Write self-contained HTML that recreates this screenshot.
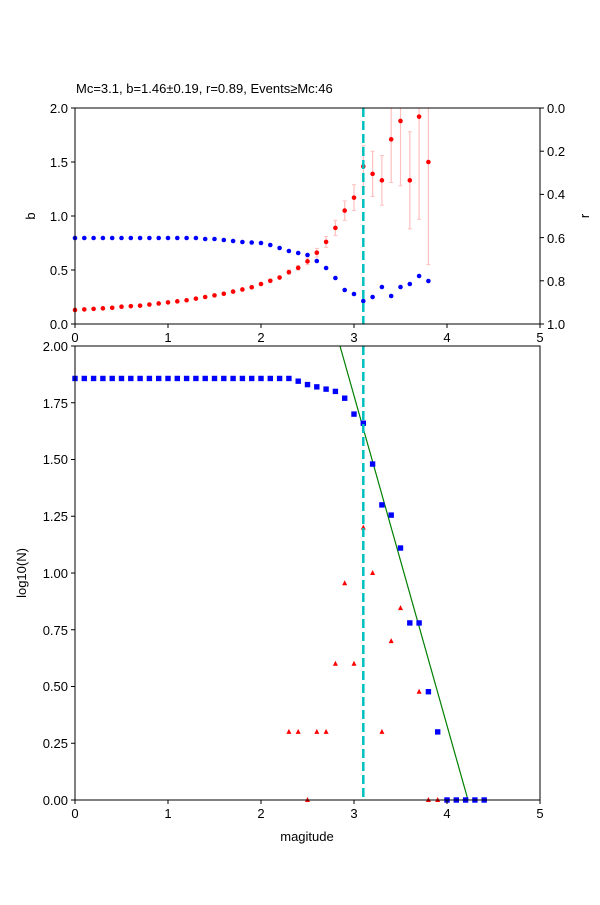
<!DOCTYPE html>
<html><head><meta charset="utf-8"><style>
body{margin:0;background:#fff}
svg text{font-family:"Liberation Sans","DejaVu Sans",sans-serif;font-size:13px;fill:#000}
</style></head><body>
<svg id="s" width="600" height="900" xmlns="http://www.w3.org/2000/svg">
<rect width="600" height="900" fill="#fff"/>
<g id="data"></g>
<rect x="75" y="108" width="465" height="216" fill="none" stroke="#000" stroke-width="1"/>
<rect x="75" y="346" width="465" height="454" fill="none" stroke="#000" stroke-width="1"/>
<text x="76" y="93">Mc=3.1, b=1.46±0.19, r=0.89, Events≥Mc:46</text>
<g stroke="#000">
<line x1="75" y1="324" x2="75" y2="328"/><line x1="168" y1="324" x2="168" y2="328"/><line x1="261" y1="324" x2="261" y2="328"/><line x1="354" y1="324" x2="354" y2="328"/><line x1="447" y1="324" x2="447" y2="328"/><line x1="540" y1="324" x2="540" y2="328"/>
<line x1="71" y1="324" x2="75" y2="324"/><line x1="71" y1="270" x2="75" y2="270"/><line x1="71" y1="216" x2="75" y2="216"/><line x1="71" y1="162" x2="75" y2="162"/><line x1="71" y1="108" x2="75" y2="108"/>
<line x1="540" y1="108" x2="544" y2="108"/><line x1="540" y1="151.2" x2="544" y2="151.2"/><line x1="540" y1="194.4" x2="544" y2="194.4"/><line x1="540" y1="237.6" x2="544" y2="237.6"/><line x1="540" y1="280.8" x2="544" y2="280.8"/><line x1="540" y1="324" x2="544" y2="324"/>
<line x1="75" y1="800" x2="75" y2="804"/><line x1="168" y1="800" x2="168" y2="804"/><line x1="261" y1="800" x2="261" y2="804"/><line x1="354" y1="800" x2="354" y2="804"/><line x1="447" y1="800" x2="447" y2="804"/><line x1="540" y1="800" x2="540" y2="804"/>
<line x1="71" y1="800" x2="75" y2="800"/><line x1="71" y1="743.25" x2="75" y2="743.25"/><line x1="71" y1="686.5" x2="75" y2="686.5"/><line x1="71" y1="629.75" x2="75" y2="629.75"/><line x1="71" y1="573" x2="75" y2="573"/><line x1="71" y1="516.25" x2="75" y2="516.25"/><line x1="71" y1="459.5" x2="75" y2="459.5"/><line x1="71" y1="402.75" x2="75" y2="402.75"/><line x1="71" y1="346" x2="75" y2="346"/>
</g>
<g text-anchor="middle">
<text x="75" y="342">0</text><text x="168" y="342">1</text><text x="261" y="342">2</text><text x="354" y="342">3</text><text x="447" y="342">4</text><text x="540" y="342">5</text>
<text x="75" y="818">0</text><text x="168" y="818">1</text><text x="261" y="818">2</text><text x="354" y="818">3</text><text x="447" y="818">4</text><text x="540" y="818">5</text>
<text x="307" y="841">magitude</text>
</g>
<g text-anchor="end">
<text x="68" y="329">0.0</text><text x="68" y="275">0.5</text><text x="68" y="221">1.0</text><text x="68" y="167">1.5</text><text x="68" y="113">2.0</text>
<text x="68" y="805">0.00</text><text x="68" y="748">0.25</text><text x="68" y="691">0.50</text><text x="68" y="635">0.75</text><text x="68" y="578">1.00</text><text x="68" y="521">1.25</text><text x="68" y="464">1.50</text><text x="68" y="408">1.75</text><text x="68" y="351">2.00</text>
</g>
<g>
<text x="547" y="113">0.0</text><text x="547" y="156">0.2</text><text x="547" y="199">0.4</text><text x="547" y="243">0.6</text><text x="547" y="286">0.8</text><text x="547" y="329">1.0</text>
</g>
<text transform="translate(35,216) rotate(-90)" text-anchor="middle">b</text>
<text transform="translate(589,216) rotate(-90)" text-anchor="middle">r</text>
<text transform="translate(26,573) rotate(-90)" text-anchor="middle">log10(N)</text>
</svg>
<script>
var ns="http://www.w3.org/2000/svg",g=document.getElementById("data");
function el(t,a){var e=document.createElementNS(ns,t);for(var k in a)e.setAttribute(k,a[k]);g.appendChild(e);return e;}
function X(m){return 75+93*m;}
var b=[0.13,0.135,0.14,0.145,0.15,0.16,0.165,0.17,0.18,0.19,0.2,0.21,0.22,0.235,0.25,0.265,0.28,0.3,0.32,0.34,0.37,0.40,0.43,0.48,0.52,0.58,0.66,0.76,0.89,1.05,1.17,1.46,1.39,1.33,1.71,1.88,1.33,1.92,1.5];
var be={23:.02,24:.02,25:.03,26:.04,27:.05,28:.07,29:.09,30:.12,31:.19,32:.21,33:.23,34:.4,35:.6,36:.45,37:.95,38:.95};
var ry=[238,238,238,238,238,238,238,238,238,238,238,238,238,238,239,239,240,241,242,242.5,243,245,248,251,253,255,261,268,278,290,294,301,297,287,296,287,284,276,281];
for(var i=0;i<b.length;i++){var m=i/10;
 if(be[i]){var lo=Math.max(0,b[i]-be[i]),hi=Math.min(2,b[i]+be[i]);
  el("line",{x1:X(m),x2:X(m),y1:324-108*lo,y2:324-108*hi,stroke:"#ffc0c0","stroke-width":1.2});
  el("line",{x1:X(m)-2,x2:X(m)+2,y1:324-108*lo,y2:324-108*lo,stroke:"#ffc0c0"});
  if(b[i]+be[i]<2)el("line",{x1:X(m)-2,x2:X(m)+2,y1:324-108*hi,y2:324-108*hi,stroke:"#ffc0c0"});}
}
for(var i=0;i<b.length;i++){var m=i/10;
 el("circle",{cx:X(m),cy:324-108*b[i],r:2.3,fill:"red"});
 el("circle",{cx:X(m),cy:ry[i],r:2.3,fill:"blue"});}
el("line",{x1:X(3.1),x2:X(3.1),y1:108,y2:324,stroke:"#00bfbf","stroke-width":2.5,"stroke-dasharray":"9,4"});
var c=[];for(var i=0;i<=23;i++)c.push(1.857);
c=c.concat([1.845,1.83,1.82,1.81,1.80,1.77,1.70,1.66,1.48,1.30,1.255,1.11,0.78,0.78,0.477,0.30,0,0,0,0,0]);
el("line",{x1:340,y1:346,x2:468,y2:800,stroke:"green","stroke-width":1.2});
var tr={23:.3,24:.3,25:0,26:.3,27:.3,28:.6,29:.955,30:.6,31:1.2,32:1.0,33:.3,34:.7,35:.845,37:.477,38:0,39:0};
for(var k in tr){var x=X(k/10),y=800-227*tr[k];el("polygon",{points:(x-2.5)+","+(y+2)+" "+(x+2.5)+","+(y+2)+" "+x+","+(y-3),fill:"red"});}
for(var i=0;i<c.length;i++){var x=X(i/10),y=800-227*c[i];el("rect",{x:x-2.7,y:y-2.7,width:5.4,height:5.4,fill:"blue"});}
el("line",{x1:X(3.1),x2:X(3.1),y1:346,y2:800,stroke:"#00bfbf","stroke-width":2.5,"stroke-dasharray":"9,4"});
</script>
</body></html>
